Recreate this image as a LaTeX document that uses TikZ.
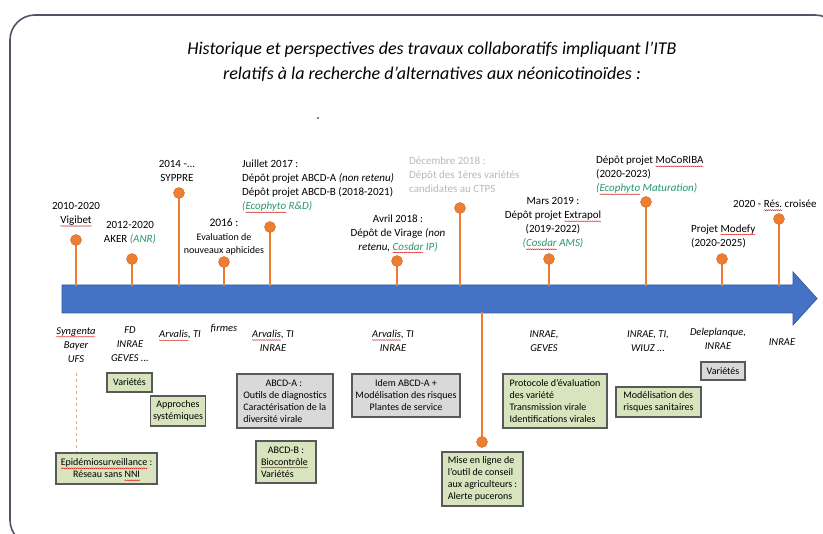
\documentclass[tikz,border=0pt]{standalone}
\usepackage{fontspec}
\setmainfont{Carlito}
\usetikzlibrary{decorations.pathmorphing}
\newsavebox\sqbox
\newlength\sqlen
\newcommand\sq[1]{\sbox\sqbox{#1}\setlength\sqlen{\wd\sqbox}\rlap{\tikz[baseline=0pt]{\useasboundingbox (0pt,0pt); \draw[red!85!black, line width=0.35pt, decorate, decoration={snake, amplitude=0.45pt, segment length=2pt}] (0pt,-2.4pt) -- (\sqlen,-2.4pt);}}\usebox\sqbox}
\definecolor{arrblue}{RGB}{68,114,196}
\definecolor{arredge}{RGB}{52,90,160}
\definecolor{orng}{RGB}{237,125,49}
\definecolor{grn}{RGB}{40,150,110}
\definecolor{gfill}{RGB}{215,228,189}
\definecolor{yfill}{RGB}{217,217,217}
\definecolor{bd}{RGB}{89,89,89}
\definecolor{frame}{RGB}{80,85,100}
\definecolor{ltgray}{RGB}{185,185,185}
\tikzset{
  lbl/.style={inner sep=0pt, align=center, font=\fontsize{11}{14}\selectfont},
  ital/.style={inner sep=0pt, align=center, font=\fontsize{10.5}{14}\selectfont\itshape},
  box/.style={draw=bd, line width=1.1pt, inner sep=2.5pt, font=\fontsize{10}{12}\selectfont},
  gbox/.style={box, fill=gfill},
  ybox/.style={box, fill=yfill},
  pin/.style={circle, minimum size=11pt, inner sep=0pt},
  stalk/.style={draw=orng, line width=2.4pt},
}
\begin{document}
\begin{tikzpicture}[x=1pt,y=-1pt]
\useasboundingbox (0,0) rectangle (823,534);
\fill[white] (0,0) rectangle (823,534);
\clip (0,0) rectangle (823,534);
\draw[frame, line width=1.6pt, rounded corners=25pt] (10,15) rectangle (840,545);

% title
\node[inner sep=0pt, align=center, font=\fontsize{18}{25}\selectfont\itshape] (title) at (432,62)
  {Historique et perspectives des travaux collaboratifs impliquant l’ITB\\relatifs à la recherche d’alternatives aux néonicotinoïdes :};
\fill (318,118) circle (0.9);

% arrow
\draw[fill=arrblue, draw=arredge, line width=0.8pt] (62,285) -- (793,285) -- (793,272) -- (817,298.5) -- (793,325) -- (793,313) -- (62,313) -- cycle;

% attachment points
\foreach \n/\x in {1/76,2/132,3/179,4/224,5/270,6/397,7/460,9/549,10/646,11/722,12/779}
  \coordinate (a\n) at (\x,286);
\coordinate (a8) at (482,312);

% pins
\node[pin] (p1) at (76,240) {};
\node[pin] (p2) at (132,259) {};
\node[pin] (p3) at (179,193) {};
\node[pin] (p4) at (224,262) {};
\node[pin] (p5) at (270,227) {};
\node[pin] (p6) at (397,261) {};
\node[pin] (p7) at (460,208) {};
\node[pin] (p8) at (482,442) {};
\node[pin] (p9) at (549,259) {};
\node[pin] (p10) at (646,202) {};
\node[pin] (p11) at (722,259) {};
\node[pin] (p12) at (779,219) {};
\foreach \n in {1,...,12}
  \draw[stalk] (p\n.center) -- (a\n);
\foreach \n in {1,...,12}
  \draw[fill=orng, draw=orng!85!black, line width=0.4pt] (p\n) circle (5.5pt);

% upper labels
\node[lbl] (t1) at (76,214) {2010-2020\\\sq{Vigibet}};
\node[lbl] (t2) at (130,233) {2012-2020\\AKER {\color{grn}\itshape (ANR)}};
\node[lbl] (t3) at (177,171) {2014 -...\\SYPPRE};
\node[lbl, font=\fontsize{10}{13.5}\selectfont] (t4) at (224,237) {{\fontsize{11.5}{13.5}\selectfont 2016 :}\\Evaluation de\\nouveaux aphicides};
\node[lbl, align=left, anchor=west] (t5) at (242,186) {Juillet 2017 :\\Dépôt projet ABCD-A \textit{(non retenu)}\\Dépôt projet ABCD-B (2018-2021)\\{\color{grn}\itshape (\sq{Ecophyto} R\&D)}};
\node[lbl] (t6) at (398,233) {Avril 2018 :\\Dépôt de Virage \textit{(non}\\\textit{retenu, {\color{grn}\sq{Cosdar} IP)}}};
\node[lbl, align=left, anchor=west, text=ltgray] (t7) at (409,175) {Décembre 2018 :\\Dépôt des 1ères variétés\\candidates au CTPS};
\node[lbl] (t8) at (553,223) {Mars 2019 :\\Dépôt projet \sq{Extrapol}\\(2019-2022)\\{\color{grn}\itshape (\sq{Cosdar} AMS)}};
\node[lbl, align=left, anchor=west] (t9) at (596,175) {Dépôt projet \sq{MoCoRIBA}\\(2020-2023)\\{\color{grn}\itshape (\sq{Ecophyto} Maturation)}};
\node[lbl, align=left, anchor=west] (t10) at (691,236) {Projet \sq{Modefy}\\(2020-2025)};
\node[lbl, anchor=west] (t11) at (733,204) {2020 - \sq{Rés.} croisée};

% lower labels
\node[ital] (b1) at (76,345) {\sq{Syngenta}\\Bayer\\UFS};
\node[ital] (b2) at (130,344) {FD\\INRAE\\GEVES ...};
\node[ital] (b3) at (180,335) {\sq{Arvalis}, TI};
\node[ital] (b4) at (224,328) {firmes};
\node[ital] (b5) at (273,341) {\sq{Arvalis}, TI\\INRAE};
\node[ital] (b6) at (393,341) {\sq{Arvalis}, TI\\INRAE};
\node[ital] (b7) at (544,341) {INRAE,\\GEVES};
\node[ital] (b8) at (648,341) {INRAE, TI,\\WIUZ ...};
\node[ital] (b9) at (718,339) {Deleplanque,\\INRAE};
\node[ital] (b10) at (782,342) {INRAE};

% boxes
\node[gbox, minimum width=45pt, minimum height=19pt] (v1) at (129.5,382.5) {Variétés};
\node[gbox, minimum width=52pt, minimum height=30pt, align=center] (ap) at (178,411) {Approches\\systémiques};
\node[gbox, minimum width=101pt, minimum height=31pt, align=center] (epi) at (106.5,468.5) {\sq{Epidémiosurveillance} :\\Réseau sans \sq{NNI}};
\node[ybox, minimum width=96pt, minimum height=54pt, align=left] (abA) at (285,401)
  {\makebox[81pt]{ABCD-A :}\\Outils de diagnostics\\Caractérisation de la\\diversité virale};
\node[gbox, minimum width=60pt, minimum height=42pt, align=left] (abB) at (286,462)
  {\makebox[50pt]{ABCD-B :}\\\sq{Biocontrôle}\\Variétés};
\node[ybox, minimum width=108pt, minimum height=43pt, align=center] (idem) at (406,395.5)
  {Idem ABCD-A +\\Modélisation des risques\\Plantes de service};
\node[gbox, minimum width=81pt, minimum height=54pt, align=left] (mise) at (482.5,479)
  {Mise en ligne de\\l’outil de conseil\\aux agriculteurs :\\Alerte pucerons};
\node[gbox, minimum width=104pt, minimum height=54pt, align=left] (proto) at (555,401)
  {Protocole d’évaluation\\des variété\\Transmission virale\\Identifications virales};
\node[gbox, minimum width=85pt, minimum height=30pt, align=left] (modr) at (658.5,402)
  {Modélisation des\\risques sanitaires};
\node[ybox, minimum width=44pt, minimum height=18pt] (v2) at (723,371) {Variétés};

% dashed link
\coordinate (dtop) at (76,373);
\draw[orng!70, dashed, line width=0.6pt] (dtop) -- (dtop |- epi.north);
\end{tikzpicture}
\end{document}
